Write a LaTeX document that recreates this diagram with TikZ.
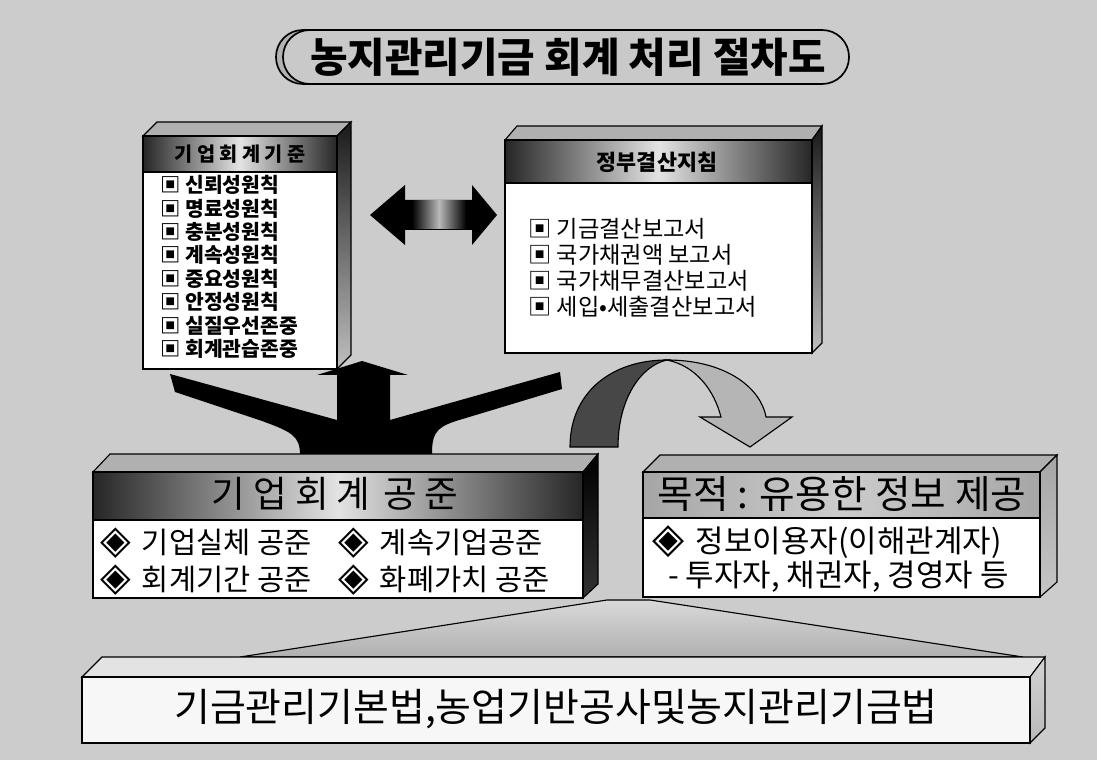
\documentclass[tikz,border=0pt]{standalone}
\usepackage{fontspec}
\setmainfont{Noto Sans CJK KR}
\newfontfamily\symfont{DejaVu Sans}
\newcommand{\dia}{\scalebox{1.35}{\symfont ◈}\hspace{0.15em}}
\usepackage{tikz}
\usetikzlibrary{arrows}
\tikzset{
  txt/.style = {inner sep=0pt, align=center, text=black},
  box_top/.style = {draw=black, thick, fill=gray!62},
  box_side/.style = {draw=black, thick, top color=black!90, bottom color=gray!50},
  box_hd/.style = {draw=black, thick, left color=black!85, right color=black!85,
    middle color=gray!22},% bandeau du titre
  box_bd/.style = {draw=black, thick, fill=white},
  hd_s/.style = {txt, font=\bfseries\fontsize{14}{16}\selectfont},
  hd_l/.style = {txt, font=\fontsize{26}{30}\selectfont},
  lst_a/.style = {txt, align=left, anchor=north west,
    font=\bfseries\fontsize{14.5}{16.7}\selectfont},
  lst_b/.style = {txt, align=left, anchor=north west,
    font=\fontsize{16.5}{18.6}\selectfont},
  itm/.style = {txt, anchor=west, font=\fontsize{21}{24}\selectfont},
  blk_arr/.style = {fill=black},
  }

\begin{document}
\begin{tikzpicture}[x=0.025cm,y=-0.025cm]
  \useasboundingbox (0,0) rectangle (1097,760);
  \fill[gray!40] (0,0) rectangle (1097,760);

  %   titre
  \draw[very thick, fill=gray!60, rounded corners=0.67cm] (276,30) rectangle (842,84);
  \draw[very thick, fill=gray!42, rounded corners=0.67cm] (283,30) rectangle (849,84);
  \node[txt, font=\bfseries\fontsize{29}{32}\selectfont] (title) at (568,57)
    {농지관리기금 회계 처리 절차도};

  %   fan under the two boxes
  \draw[thick, top color=gray!30, bottom color=gray!62] (607,600) -- (650,600)
    -- (1023,657) -- (240,657) -- cycle;

  %   three way arrow
  \fill[blk_arr] (300,455) .. controls (300,436) and (292,432) .. (262,421)
    -- (175,392) -- (170,374) -- (337,420) -- (337,375) -- (317,375)
    -- (362,361) -- (408,375) -- (390,375) -- (390,420) -- (560,372)
    -- (562,389) -- (456,421) .. controls (434,428) and (432,436) .. (432,455)
    -- cycle;

  %   double arrow
  \fill[blk_arr] (370,215) -- (405,185) -- (405,200) -- (472,200) -- (472,185)
    -- (497,215) -- (472,245) -- (472,230) -- (405,230) -- (405,245) -- cycle;
  \fill[left color=black, right color=black, middle color=gray!55]
    (412,201) rectangle (466,229);

  %   curved arrow
  \draw[thick, fill=black!72] (570,447) .. controls (570,392) and (612,360) .. (667,360)
    .. controls (640,366) and (618,400) .. (618,447) -- cycle;
  \draw[thick, fill=gray!58] (667,360) .. controls (722,360) and (760,385) .. (766,417)
    -- (792,417) -- (750,447) -- (700,417) -- (721,417)
    .. controls (714,390) and (696,366) .. (667,360) -- cycle;

  %   kiup hoegye gijun
  \draw[box_top] (143,136) -- (157,122) -- (351,122) -- (337,136) -- cycle;
  \draw[box_side] (337,136) -- (351,122) -- (351,355) -- (337,369) -- cycle;
  \draw[box_hd] (143,136) rectangle (337,172);
  \draw[box_bd] (143,172) rectangle (337,369);
  \node[hd_s] (hd_a) at (240,154) {기 업 회 계 기 준};
  \node[lst_a] (lst_a1) at (160,175) {▣ 신뢰성원칙\\▣ 명료성원칙\\▣ 충분성원칙\\
    ▣ 계속성원칙\\▣ 중요성원칙\\▣ 안정성원칙\\▣ 실질우선존중\\▣ 회계관습존중};

  %   jeongbu gyeolsan jichim
  \draw[box_top] (505,140) -- (517,126) -- (822,126) -- (812,140) -- cycle;
  \draw[box_side] (812,140) -- (822,126) -- (822,343) -- (812,353) -- cycle;
  \draw[box_hd] (505,140) rectangle (812,183);
  \draw[box_bd] (505,183) rectangle (812,353);
  \node[hd_s, font=\bfseries\fontsize{15.5}{17}\selectfont] (hd_b) at (657,162) {정부결산지침};
  \node[lst_b] (lst_b1) at (528,218) {▣ 기금결산보고서\\▣ 국가채권액 보고서\\
    ▣ 국가채무결산보고서\\▣ 세입•세출결산보고서};

  %   base law box
  \draw[thick, fill=gray!22] (82,677) -- (102,657) -- (1045,657) -- (1030,677) -- cycle;
  \draw[thick, top color=gray!35, bottom color=gray!55] (1030,677) -- (1045,657)
    -- (1045,728) -- (1030,743) -- cycle;
  \draw[thick, fill=gray!6] (82,677) rectangle (1030,743);
  \node[txt, font=\fontsize{27.7}{30}\selectfont] (law) at (556,709)
    {기금관리기본법,농업기반공사및농지관리기금법};

  %   gongjun
  \draw[box_top] (93,472) -- (110,454) -- (598,454) -- (583,472) -- cycle;
  \draw[box_side, top color=black, bottom color=black!80] (583,472) -- (598,454)
    -- (598,584) -- (583,598) -- cycle;
  \draw[box_hd] (93,472) rectangle (583,520);
  \draw[box_bd] (93,520) rectangle (583,598);
  \node[hd_l] (hd_c) at (335,494) {기 업 회 계 \hspace{3pt}공 준};
  \node[itm] (c1) at (100,543) {\dia\ 기업실체 공준};
  \node[itm] (c2) at (338,543) {\dia\ 계속기업공준};
  \node[itm] (c3) at (100,580) {\dia\ 회계기간 공준};
  \node[itm] (c4) at (338,580) {\dia\ 화폐가치 공준};

  %   mokjeok
  \draw[box_top] (643,472) -- (660,455) -- (1057,455) -- (1040,472) -- cycle;
  \draw[box_side, top color=gray!70, bottom color=gray!45] (1040,472) -- (1057,455)
    -- (1057,582) -- (1040,597) -- cycle;
  \draw[box_hd, left color=gray!70, right color=gray!70, middle color=gray!40]
    (643,472) rectangle (1040,518);
  \draw[box_bd] (643,518) rectangle (1040,597);
  \node[hd_l, font=\fontsize{27.5}{30}\selectfont] (hd_d) at (842,494) {목적 : 유용한 정보 제공};
  \node[itm, font=\fontsize{22}{25}\selectfont] (d1) at (652,542) {\dia\ 정보이용자(이해관계자)};
  \node[itm, font=\fontsize{22}{25}\selectfont] (d2) at (668,577) {- 투자자, 채권자, 경영자 등};
\end{tikzpicture}
\end{document}
